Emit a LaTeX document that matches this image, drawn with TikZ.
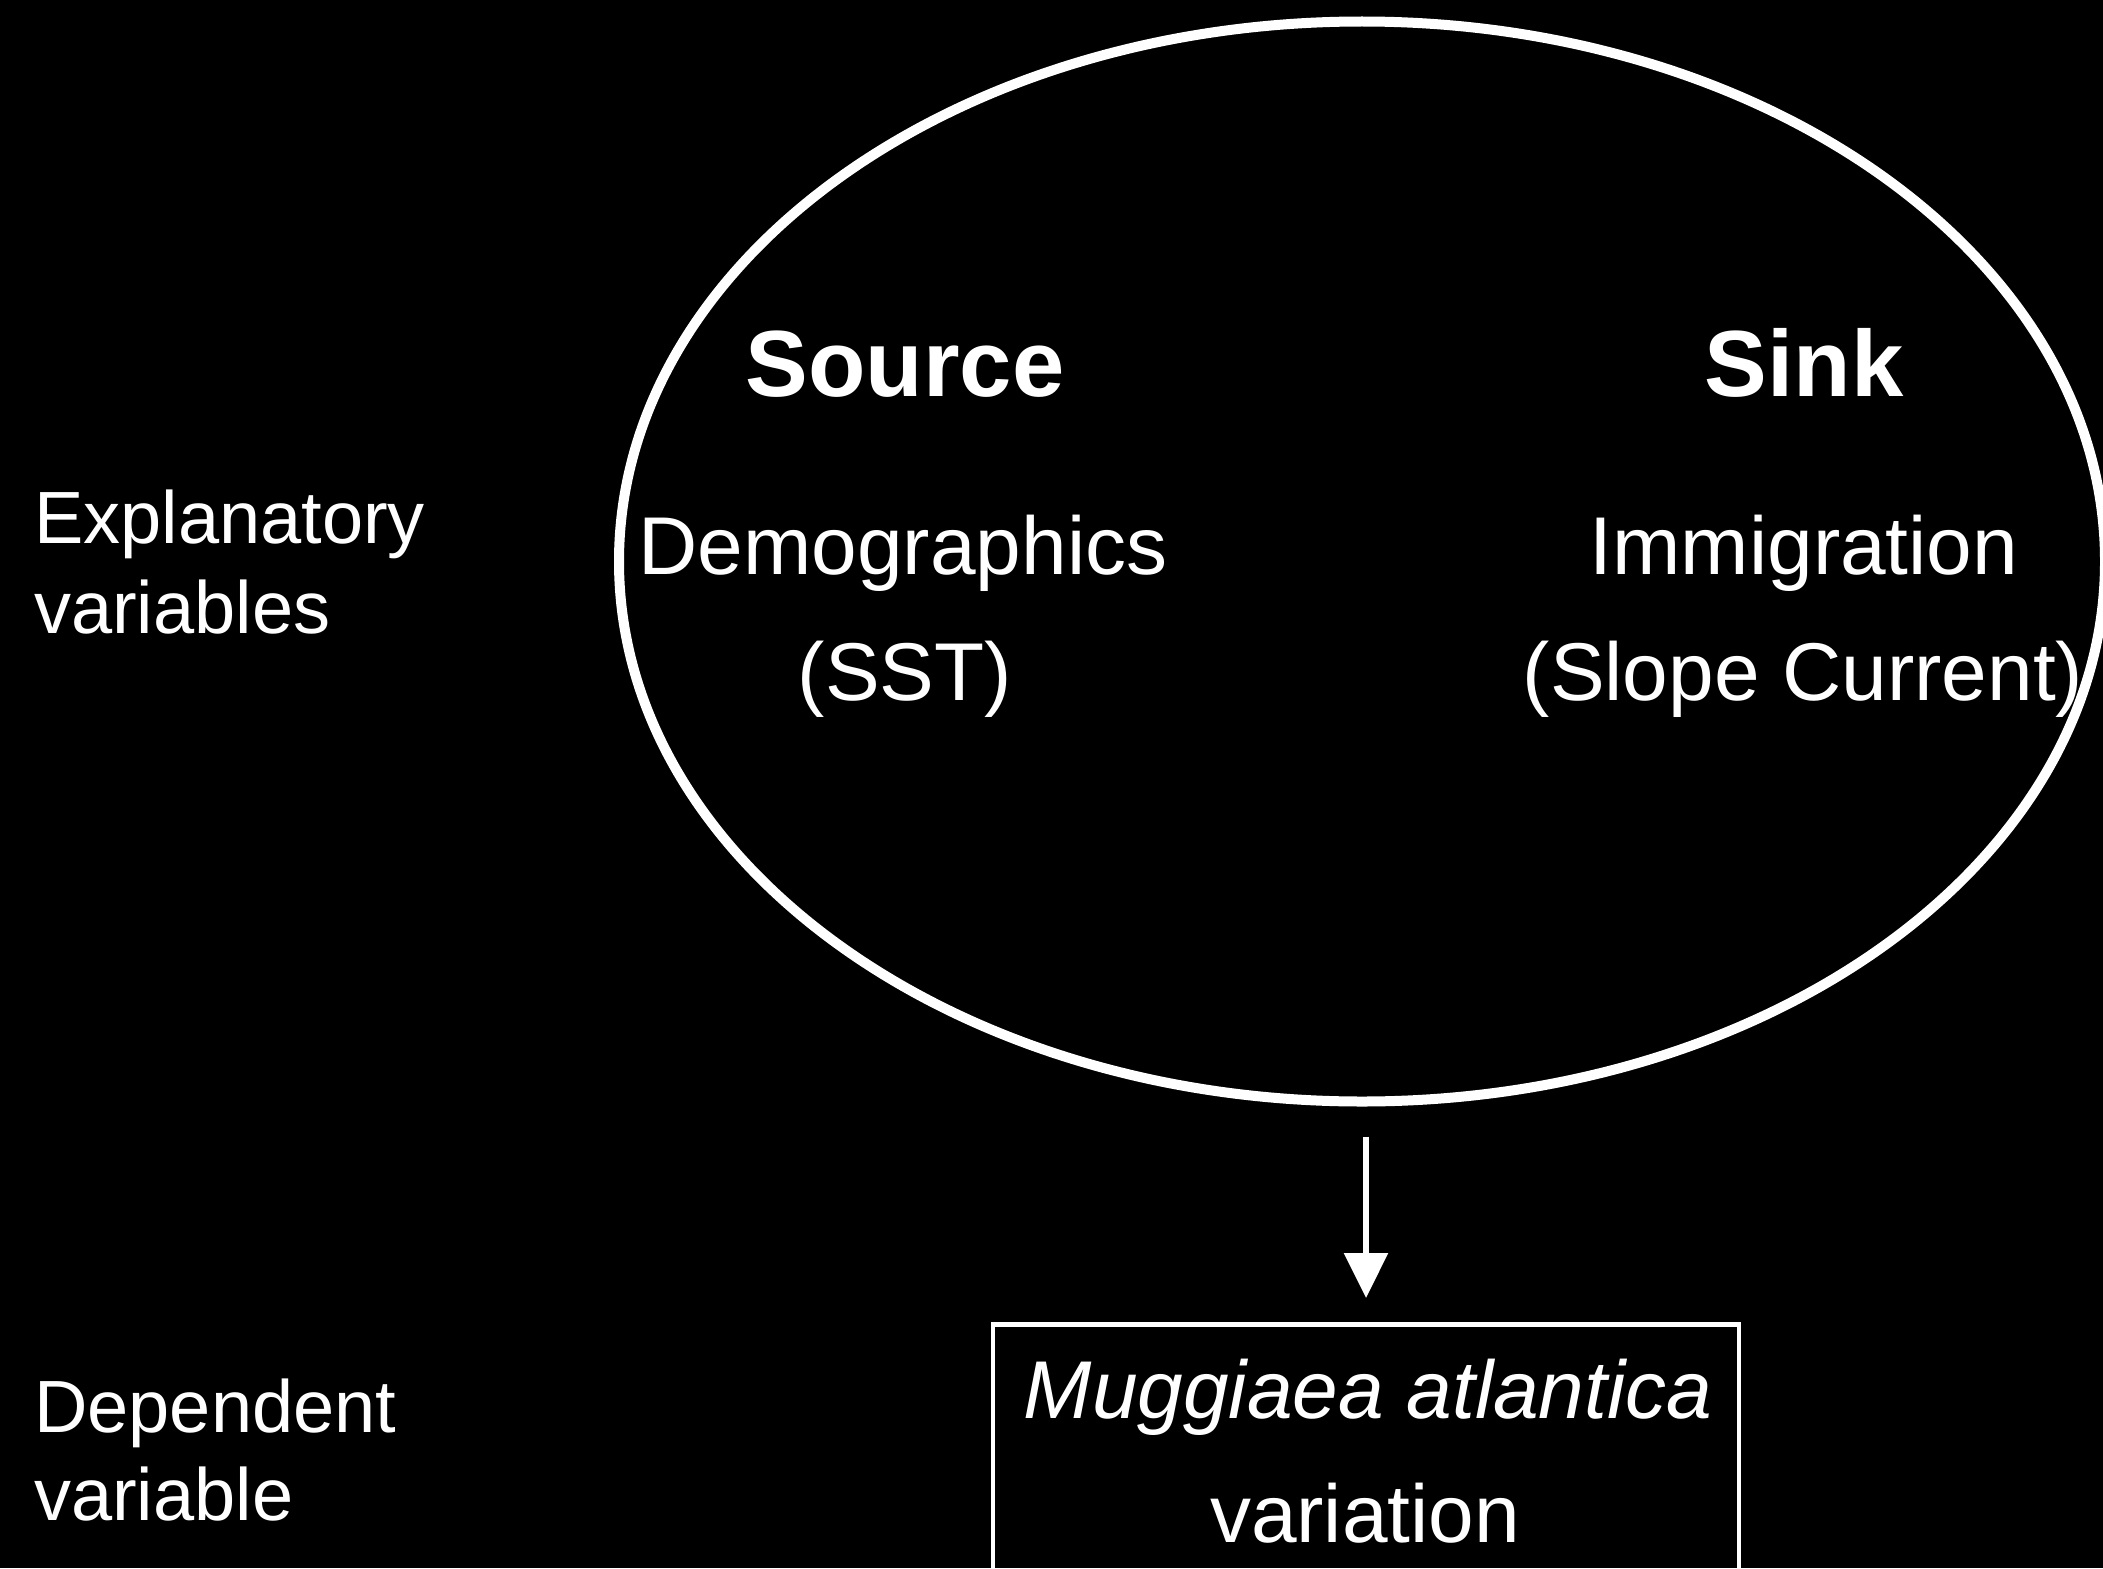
\documentclass[tikz,border=0pt]{standalone}
\usepackage{fontspec}
\setmainfont{Liberation Sans}
\usetikzlibrary{arrows.meta,shapes.geometric}
\begin{document}
\begin{tikzpicture}[x=1pt,y=-1pt,
  every node/.style={text=white,inner sep=0pt},
  mainlbl/.style={font=\fontsize{82}{98}\selectfont, anchor=base},
  headlbl/.style={font=\fontsize{94}{110}\selectfont\bfseries, anchor=base},
  sidelbl/.style={font=\fontsize{74}{88}\selectfont, anchor=base west},
  ovalshape/.style={draw=white, line width=10pt, ellipse, minimum width=1486pt, minimum height=1080pt},
  boxshape/.style={draw=white, line width=4.5pt, minimum width=746pt, minimum height=400pt, anchor=north},
  flow/.style={draw=white, line width=6pt, -{Triangle[width=43pt,length=45pt]}}
]
\useasboundingbox (0,0) rectangle (2103,1568);
\fill[black] (0,0) rectangle (2103,1568);
\clip (0,0) rectangle (2103,1568);

\node[ovalshape] (oval) at (1362,561.5) {};
\node[boxshape] (box) at (1366,1322) {};

\node[headlbl] (source) at (905,396) {Source};
\node[headlbl] (sink) at (1804,396) {Sink};
\node[mainlbl] (demo) at (903,574) {Demographics};
\node[mainlbl] (sst) at (905,700) {(SST)};
\node[mainlbl] (immig) at (1804,574) {Immigration};
\node[mainlbl] (slope) at (1803,700) {(Slope Current)};

\node[sidelbl] (expl1) at (34,543) {Explanatory};
\node[sidelbl] (expl2) at (34,633) {variables};
\node[sidelbl] (dep1) at (34,1432) {Dependent};
\node[sidelbl] (dep2) at (34,1520) {variable};

\node[mainlbl] (muggia) at (1368,1418) {\itshape Muggiaea atlantica};
\node[mainlbl] (variation) at (1365,1542) {variation};

\draw[flow, shorten <=30pt, shorten >=24pt] (oval.south -| box.north) -- (box.north);
\end{tikzpicture}
\end{document}
